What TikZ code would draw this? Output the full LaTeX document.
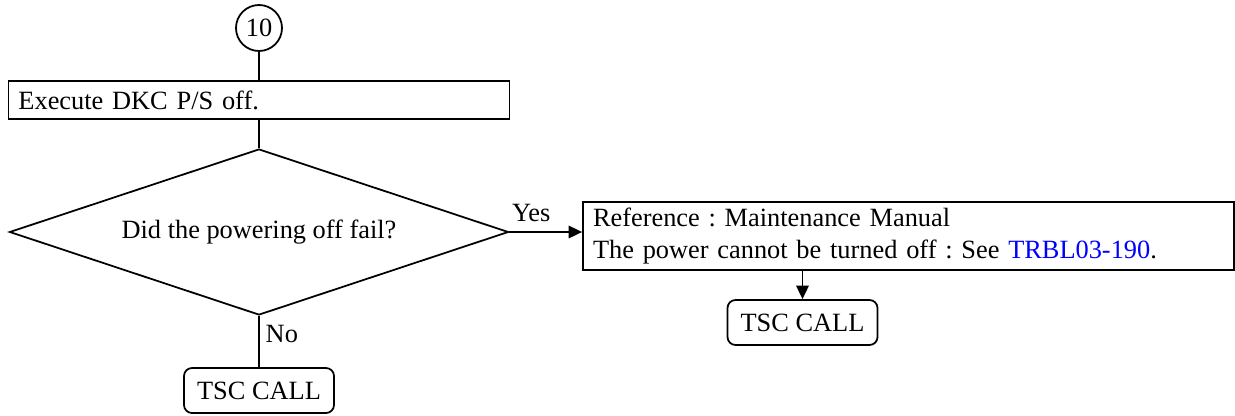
\documentclass[tikz,border=0pt]{standalone}
\usepackage{fontspec}
\setmainfont{Liberation Serif}
\usetikzlibrary{shapes.geometric,arrows.meta}
\definecolor{linkblue}{RGB}{0,0,255}

\begin{document}
\begin{tikzpicture}[line width=1pt,font=\fontsize{15}{18.2}\selectfont\frenchspacing,
	box/.style={draw,rectangle,inner xsep=0.2cm,inner ysep=0pt,align=left},
	callbox/.style={draw,rounded corners=0.16cm,minimum width=3cm,minimum height=0.9cm},
	link/.style={-{Triangle[length=0.27cm,width=0.25cm]}}]
	%	\draw[gray!20] (0,0)grid(25,8);
	\useasboundingbox (0,0) rectangle (24.7,8.3);
	\path (5.18,7.74)node[draw,circle,minimum size=0.92cm,inner sep=0pt](c10){10}
	(5.18,6.30)node[box,text width=9.62cm,minimum height=0.76cm](exec){Execute DKC P/S off.}
	(5.18,3.66)node[draw,diamond,aspect=3,inner sep=0pt,minimum width=9.98cm,minimum height=3.32cm](ask){Did the powering off fail?}
	(18.17,3.58)node[box,text width=12.62cm,minimum height=1.36cm](ref){Reference : Maintenance Manual\\The power cannot be turned off : See \textcolor{linkblue}{TRBL03-190}.}
	(5.18,0.49)node[callbox](tscA){TSC CALL}
	(16.05,1.85)node[callbox](tscB){TSC CALL};
	\draw (c10)--(exec) (exec)--(ask);
	\draw[link] (ask.east)--(ask.east -| ref.west)node[pos=0.3,above=2pt](yes){Yes};
	\draw (ask.south)--(tscA.north)node[pos=0.35,right](no){No};
	\draw[link] (ref.south -| tscB.north)--(tscB.north);
\end{tikzpicture}
\end{document}
